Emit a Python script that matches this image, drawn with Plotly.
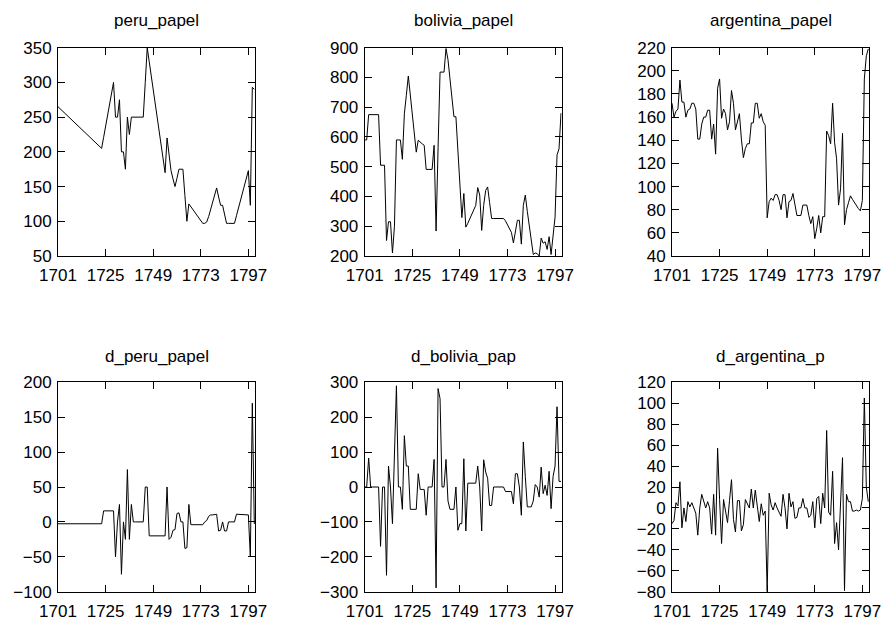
import plotly.graph_objects as go

years = list(range(1701, 1801))

peru_papel = [
    265.0, 262.3, 259.5, 256.8, 254.1, 251.4, 248.6, 245.9, 243.2, 240.5,
    237.7, 235.0, 232.3, 229.5, 226.8, 224.1, 221.4, 218.6, 215.9, 213.2,
    210.5, 207.7, 205.0, 220.8, 236.7, 252.5, 268.3, 284.2, 300, 250,
    250, 275, 200, 200, 175, 250, 225, 250, 250, 250,
    250, 250, 250, 250, 300, 350, 330, 310, 290, 270,
    250, 230, 210, 190, 170, 220, 195, 173, 161, 150,
    162, 175, 175, 175, 137, 100, 125, 121, 117, 113,
    109, 105, 101, 97, 97, 99, 107, 117, 127, 137,
    148, 135, 123, 123, 110, 97, 97, 97, 97, 97,
    108, 119, 130, 141, 152, 163, 173, 123, 293, 290,
]

bolivia_papel = [
    590, 590, 675, 675, 675, 675, 675, 675, 505, 505,
    505, 252, 315, 315, 210, 300, 590, 590, 590, 525,
    678, 740, 805, 741, 677, 613, 549, 589, 582, 577,
    572, 491, 491, 491, 491, 572, 284, 563, 818, 818,
    818, 897, 860, 796, 732, 668, 668, 544, 439, 329,
    410, 297, 310, 325, 340, 355, 370, 430, 405, 286,
    370, 420, 432, 379, 326, 326, 326, 326, 326, 326,
    326, 318, 305, 292, 279, 244, 282, 320, 320, 240,
    370, 405, 350, 295, 240, 205, 210, 208, 200, 260,
    243, 248, 222, 265, 205, 272, 330, 540, 560, 680,
]

argentina_papel = [
    172, 160, 165, 167, 192, 173, 173, 160, 166, 167,
    172, 172, 167, 141, 141, 154, 160, 160, 166, 166,
    141, 154, 128, 185, 193, 159, 167, 163, 149, 156,
    183, 172, 149, 156, 163, 141, 125, 133, 137, 137,
    155, 155, 172, 172, 159, 163, 156, 153, 73, 87,
    90, 88, 93, 93, 88, 80, 93, 93, 73, 87,
    88, 94, 84, 75, 75, 75, 84, 84, 84, 75,
    68, 74, 55, 64, 75, 60, 74, 74, 148, 144,
    137, 172, 138, 124, 84, 98, 146, 67, 80, 86,
    92, 89, 86, 84, 81, 79, 88, 193, 213, 219,
]

d_peru_papel = [
    -2.7, -2.7, -2.7, -2.7, -2.7, -2.7, -2.7, -2.7, -2.7, -2.7,
    -2.7, -2.7, -2.7, -2.7, -2.7, -2.7, -2.7, -2.7, -2.7, -2.7,
    -2.7, -2.7, -2.7, 15.8, 15.8, 15.8, 15.8, 15.8, 15.8, -50,
    0, 25, -75, 0, -25, 75, -25, 25, 0, 0,
    0, 0, 0, 0, 50, 50, -20, -20, -20, -20,
    -20, -20, -20, -20, -20, 50, -25, -22, -12, -11,
    12, 13, 0, 0, -38, -37, 25, -4, -4, -4,
    -4, -4, -4, -4, 0, 2, 8, 10, 10, 10,
    11, -13, -12, 0, -13, -13, 0, 0, 0, 0,
    11, 11, 11, 11, 11, 11, 10, -50, 170, -3,
]

d_bolivia_pap = [
    0, 0, 83, 0, 0, 0, 0, 0, -170, 0,
    0, -253, 60, 0, -105, 90, 290, 0, 0, -64,
    147, 60, 60, -64, -64, -64, -64, 38, -7, -7,
    -7, -81, 0, 0, 0, 79, -289, 282, 253, 0,
    0, 79, -40, -64, -64, -64, 0, -124, -105, -105,
    81, -126, 11, 11, 11, 11, 11, 60, 0, -126,
    78, 43, 25, -53, -53, 0, 0, 0, 0, 0,
    0, -13, -13, -13, -13, -48, 38, 38, 0, -81,
    129, 30, -57, -57, -57, -40, 7, 0, -29, 57,
    -19, 5, -24, 45, -62, 30, 60, 230, 16, 16,
]

d_argentina_p = [
    -15, -12, 5, 2, 25, -19, 0, -13, 6, 1,
    5, 0, -5, -26, 0, 13, 6, 0, 6, 0,
    -25, 13, -26, 57, 8, -34, 8, -4, -14, 7,
    27, -11, -23, 7, 7, -22, -16, 8, 4, 0,
    18, 0, 17, 0, -13, 4, -7, -3, -80, 14,
    3, -2, 5, 0, -5, -8, 13, 0, -20, 14,
    1, 6, -10, -9, 0, 0, 9, 0, 0, -9,
    -7, 6, -19, 9, 11, -15, 14, 0, 74, -4,
    -7, 35, -34, -14, -40, 14, 48, -79, 13, 6,
    6, -3, -3, -2, -3, -2, 9, 105, 20, 6,
]

x_ticks = [1701, 1725, 1749, 1773, 1797]

panels = [
    ("peru_papel", peru_papel, [50, 350], 50),
    ("bolivia_papel", bolivia_papel, [200, 900], 100),
    ("argentina_papel", argentina_papel, [40, 220], 20),
    ("d_peru_papel", d_peru_papel, [-100, 200], 50),
    ("d_bolivia_pap", d_bolivia_pap, [-300, 300], 100),
    ("d_argentina_p", d_argentina_p, [-80, 120], 20),
]

W, H = 889, 624
col_px = [(58, 255), (364.7, 561.7), (672, 869)]
row_px = [(47.7, 256), (382.3, 591.7)]
title_y_px = [20, 356]

font_family = "Liberation Sans, Arial, sans-serif"
tick_size = 17
title_size = 17

fig = go.Figure()
layout = dict(
    width=W, height=H,
    margin=dict(l=0, r=0, t=0, b=0, autoexpand=False),
    paper_bgcolor="white", plot_bgcolor="white",
    showlegend=False,
    font=dict(family=font_family, size=tick_size, color="black"),
    annotations=[],
)

for i, (name, values, yrange, dtick) in enumerate(panels):
    r, c = divmod(i, 3)
    x0, x1 = col_px[c]
    y0, y1 = row_px[r]
    n = i + 1
    xa = "x" if n == 1 else f"x{n}"
    ya = "y" if n == 1 else f"y{n}"
    fig.add_trace(go.Scatter(
        x=years, y=values, mode="lines",
        line=dict(color="black", width=1),
        xaxis=xa, yaxis=ya, hoverinfo="skip",
    ))
    common = dict(
        showgrid=False, zeroline=False, showline=True, linecolor="black",
        linewidth=1, mirror="ticks", ticks="inside", ticklen=7,
        tickcolor="black", tickwidth=1, automargin=False,
        tickfont=dict(family=font_family, size=tick_size, color="black"),
    )
    layout[f"xaxis{n}" if n > 1 else "xaxis"] = dict(
        common, domain=[x0 / W, x1 / W], range=[1701, 1800.35],
        tickmode="array", tickvals=x_ticks, anchor=ya,
        ticklabelstandoff=4,
    )
    layout[f"yaxis{n}" if n > 1 else "yaxis"] = dict(
        common, domain=[1 - y1 / H, 1 - y0 / H], range=yrange,
        tickmode="linear", tick0=yrange[0], dtick=dtick, anchor=xa,
        ticklabelstandoff=2,
    )
    layout["annotations"].append(dict(
        text=name, xref="paper", yref="paper",
        x=(x0 + x1) / 2 / W, y=1 - title_y_px[r] / H,
        xanchor="center", yanchor="middle", showarrow=False,
        font=dict(family=font_family, size=title_size, color="black"),
    ))

fig.update_layout(**layout)
fig.write_html("out.html")
